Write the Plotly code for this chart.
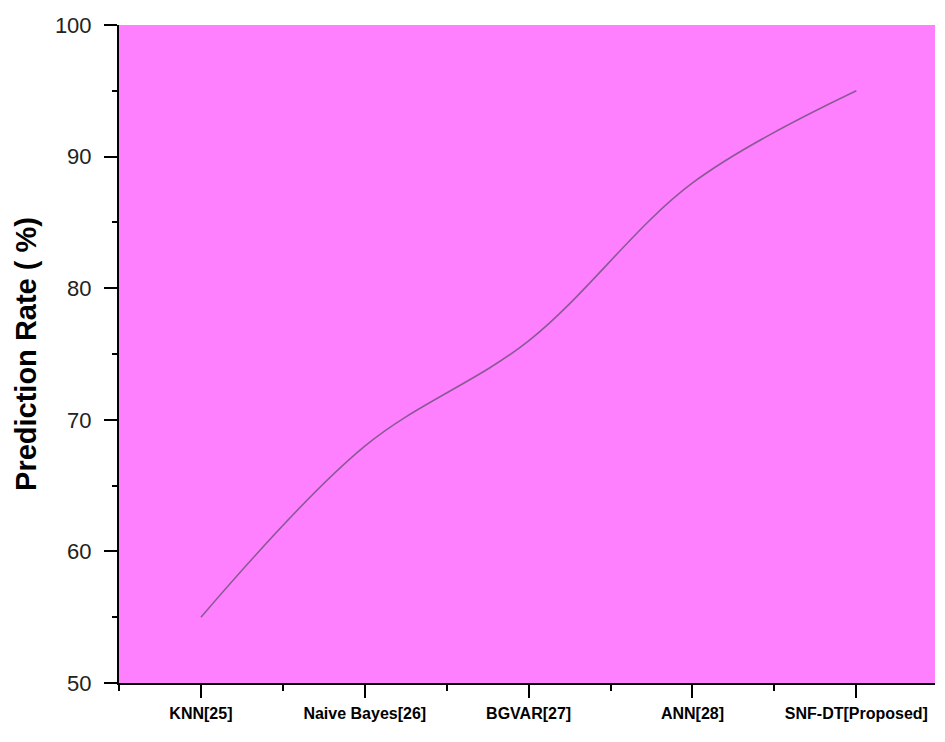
import plotly.graph_objects as go

categories = ["KNN[25]", "Naive Bayes[26]", "BGVAR[27]", "ANN[28]", "SNF-DT[Proposed]"]
prediction_rate = [55, 68, 76, 88, 95]
y_ticks = [50, 60, 70, 80, 90, 100]

x_pos = list(range(len(categories)))

fig = go.Figure()
fig.add_trace(go.Scatter(
    x=x_pos, y=prediction_rate, mode="lines",
    line=dict(shape="spline", smoothing=1.0, color="#8a5a94", width=1.6),
    showlegend=False, hoverinfo="skip",
))

fig.update_layout(
    width=945, height=742,
    margin=dict(l=111, r=18, t=17, b=67, autoexpand=False),
    paper_bgcolor="white",
    plot_bgcolor="#FF80FF",
    font=dict(family="Liberation Sans, Arial, sans-serif", color="black"),
)
fig.update_xaxes(
    range=[-0.5, 4.48],
    tickmode="array", tickvals=x_pos, ticktext=[f"<b>{c}</b>" for c in categories],
    tickfont=dict(size=16, color="black"),
    ticks="outside", ticklen=13, tickwidth=1.5, tickcolor="black",
    ticklabelstandoff=2,
    showline=True, linecolor="black", linewidth=2,
    showgrid=False, zeroline=False,
    minor=dict(tickmode="linear", tick0=0.5, dtick=1, ticks="outside", ticklen=6, tickwidth=1.5, tickcolor="black", showgrid=False),
)
fig.update_yaxes(
    range=[50, 100],
    tickmode="array", tickvals=y_ticks,
    tickfont=dict(size=22, color="#222222"),
    ticks="outside", ticklen=13, tickwidth=1.5, tickcolor="black",
    ticklabelstandoff=8,
    showline=True, linecolor="black", linewidth=2,
    showgrid=False, zeroline=False,
    minor=dict(tickmode="linear", tick0=55, dtick=10, ticks="outside", ticklen=5, tickwidth=1.5, tickcolor="black", showgrid=False),
    title=dict(text="<b>Prediction Rate ( %)</b>", font=dict(size=29, color="black"), standoff=10),
)

fig.write_html("out.html")
